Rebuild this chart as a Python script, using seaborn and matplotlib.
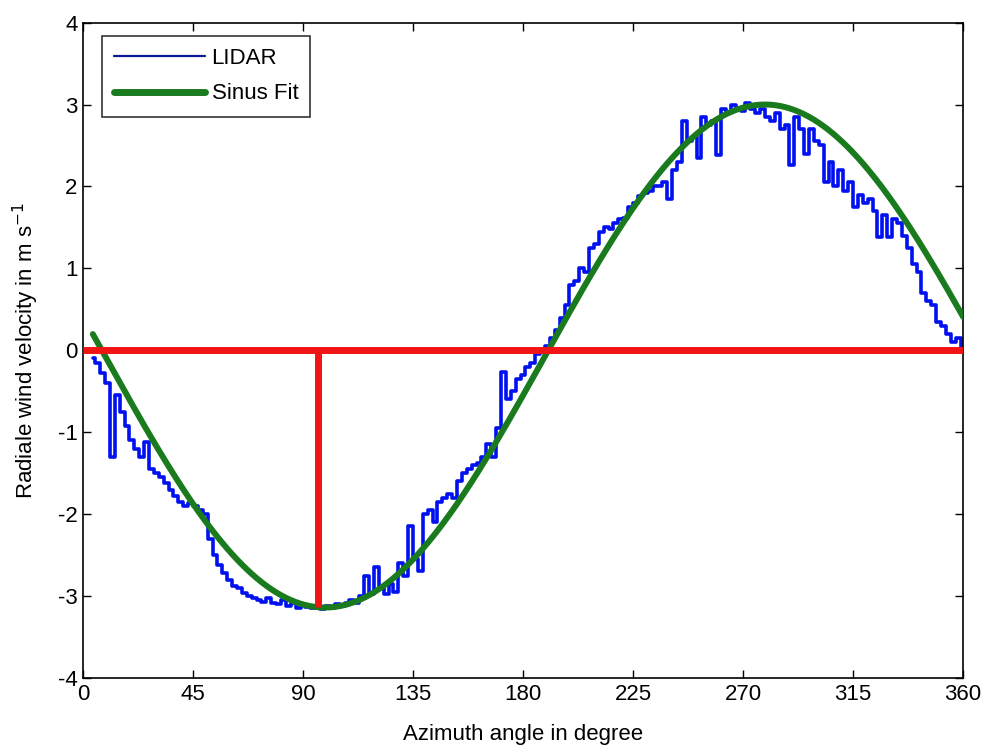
import numpy as np
import pandas as pd
import matplotlib
matplotlib.use("Agg")
import matplotlib.pyplot as plt
from matplotlib.lines import Line2D
import seaborn as sns

# Measured radial wind velocity per azimuth step (m/s)
azimuth = list(range(4, 361, 2))
lidar = [
    -0.10, -0.15, -0.28, -0.40, -1.30, -0.55, -0.75, -0.92, -1.10, -1.20,
    -1.30, -1.12, -1.45, -1.50, -1.55, -1.62, -1.70, -1.78, -1.85, -1.90,
    -1.86, -1.90, -1.95, -2.00, -2.30, -2.50, -2.62, -2.72, -2.80, -2.88,
    -2.90, -2.96, -3.00, -3.02, -3.05, -3.07, -3.02, -3.08, -3.10, -3.05,
    -3.12, -3.08, -3.14, -3.10, -3.13, -3.15, -3.12, -3.16, -3.12, -3.14,
    -3.10, -3.12, -3.08, -3.05, -3.08, -3.00, -2.76, -2.98, -2.65, -2.90,
    -2.98, -2.85, -2.95, -2.60, -2.75, -2.15, -2.55, -2.70, -2.00, -1.95,
    -2.10, -1.85, -1.80, -1.75, -1.80, -1.60, -1.50, -1.45, -1.40, -1.38,
    -1.30, -1.15, -1.30, -0.95, -0.26, -0.60, -0.50, -0.35, -0.30, -0.20,
    -0.15, -0.05, 0.00, 0.05, 0.15, 0.25, 0.40, 0.55, 0.80, 0.85,
    1.00, 0.95, 1.25, 1.30, 1.45, 1.50, 1.48, 1.55, 1.60, 1.62,
    1.75, 1.80, 1.88, 1.92, 1.95, 2.00, 2.00, 2.05, 1.85, 2.20,
    2.30, 2.80, 2.55, 2.60, 2.35, 2.85, 2.75, 2.80, 2.38, 2.95,
    2.90, 3.00, 2.95, 2.92, 3.02, 2.95, 2.90, 2.95, 2.85, 2.80,
    2.90, 2.70, 2.75, 2.26, 2.85, 2.70, 2.40, 2.70, 2.55, 2.50,
    2.05, 2.30, 2.00, 2.20, 1.95, 2.05, 1.75, 1.90, 1.80, 1.85,
    1.70, 1.38, 1.65, 1.38, 1.60, 1.55, 1.40, 1.25, 1.05, 0.95,
    0.70, 0.60, 0.55, 0.35, 0.30, 0.20, 0.10, 0.15, 0.00,
]

# Parameters of the fitted sine: v = offset + amplitude * sin(azimuth - phase)
fit_amplitude = 3.07
fit_phase_deg = 189.0
fit_offset = -0.07

# Wind direction marker (azimuth of the velocity minimum)
direction_deg = 96.3

x_ticks = [0, 45, 90, 135, 180, 225, 270, 315, 360]
y_ticks = [-4, -3, -2, -1, 0, 1, 2, 3, 4]

df_lidar = pd.DataFrame({"azimuth": azimuth, "velocity": lidar})
fit_az = np.arange(azimuth[0], 360.5, 1.0)
fit_v = fit_offset + fit_amplitude * np.sin(np.deg2rad(fit_az - fit_phase_deg))
df_fit = pd.DataFrame({"azimuth": fit_az, "velocity": fit_v})
dir_bottom = fit_offset + fit_amplitude * np.sin(np.deg2rad(direction_deg - fit_phase_deg))

sns.set_style("ticks")
plt.rcParams["font.family"] = ["Liberation Sans", "DejaVu Sans"]
plt.rcParams["text.color"] = "black"
plt.rcParams["axes.labelcolor"] = "black"

fig = plt.figure(figsize=(9.85, 7.46), dpi=100)
ax = fig.add_axes([0.0843, 0.0912, 0.8934, 0.8785])

blue = "#0010f0"
green = "#1a7a1e"
red = "#f01414"

sns.lineplot(data=df_lidar, x="azimuth", y="velocity", ax=ax, color=blue,
             linewidth=2.6, drawstyle="steps-mid", zorder=2)
sns.lineplot(data=df_fit, x="azimuth", y="velocity", ax=ax, color=green,
             linewidth=4.3, zorder=3)
ax.plot([0, 360], [0, 0], color=red, linewidth=5.0, zorder=4,
        solid_capstyle="butt")
ax.plot([direction_deg, direction_deg], [0, dir_bottom], color=red,
        linewidth=5.0, zorder=4, solid_capstyle="butt")

ax.set_xlim(0, 360)
ax.set_ylim(-4, 4)
ax.set_xticks(x_ticks)
ax.set_yticks(y_ticks)
ax.set_xticklabels([str(t) for t in x_ticks])
ax.set_yticklabels([str(t) for t in y_ticks])
ax.tick_params(direction="in", length=6, width=1.0, top=True, right=True,
               labelsize=16, pad=4, colors="black")
for s in ax.spines.values():
    s.set_visible(True)
    s.set_linewidth(1.2)
    s.set_color("black")

ax.set_xlabel("Azimuth angle in degree", fontsize=16, labelpad=14)
ax.set_ylabel("Radiale wind velocity in m s$^{-1}$", fontsize=16, labelpad=12)

handles = [Line2D([], [], color="#0a1a9a", linewidth=1.6),
           Line2D([], [], color=green, linewidth=5.0)]
leg = ax.legend(handles, ["LIDAR", "Sinus Fit"], loc="upper left",
                bbox_to_anchor=(0.021, 0.98), borderaxespad=0.0, fontsize=16,
                frameon=True, fancybox=False, edgecolor="black",
                handlelength=4.1, handletextpad=0.3, borderpad=0.55,
                labelspacing=0.65)
leg.get_frame().set_linewidth(1.2)

fig.savefig("out.png", dpi=100, facecolor="white")
